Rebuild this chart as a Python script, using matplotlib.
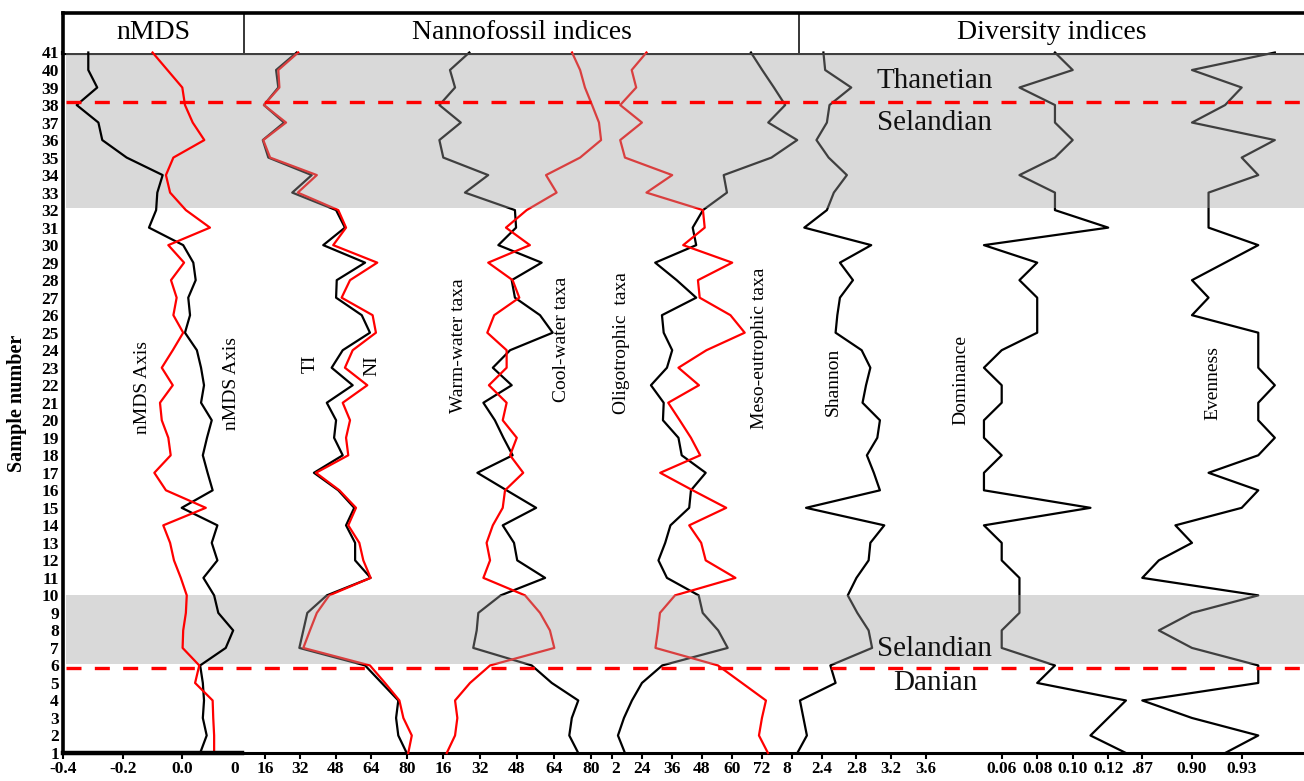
import numpy as np
import matplotlib.pyplot as plt
from matplotlib.transforms import ScaledTranslation

plt.rcParams['font.family'] = ['Liberation Serif', 'DejaVu Serif']

# sample numbers, bottom (1) to top (41)
samples = np.arange(1, 42)

nmds_axis1 = [0.060, 0.082, 0.069, 0.073, 0.069, 0.060, 0.146, 0.171, 0.121, 0.107,
              0.071, 0.118, 0.099, 0.118, -0.002, 0.102, 0.085, 0.069, 0.083, 0.099,
              0.063, 0.073, 0.063, 0.049, 0.009, 0.026, 0.020, 0.045, 0.037, 0.003,
              -0.112, -0.088, -0.084, -0.066, -0.187, -0.269, -0.282, -0.355, -0.286, -0.316,
              -0.316]
nmds_axis2 = [0.107, 0.107, 0.104, 0.102, 0.043, 0.057, 0.001, 0.003, 0.012, 0.015,
              -0.005, -0.028, -0.041, -0.064, 0.079, -0.055, -0.094, -0.039, -0.047, -0.069,
              -0.075, -0.032, -0.069, -0.032, 0.003, -0.030, -0.019, -0.038, 0.006, -0.047,
              0.093, 0.012, -0.041, -0.055, -0.030, 0.074, 0.035, 0.009, 0.000, -0.050,
              -0.100]

ti = [80.0, 76.2, 75.2, 76.2, 68.7, 61.2, 31.5, 33.3, 35.1, 43.9,
      63.7, 56.7, 56.7, 52.6, 56.3, 49.1, 38.1, 51.1, 47.2, 48.1,
      43.9, 55.6, 46.1, 51.1, 63.4, 59.7, 48.1, 48.4, 61.2, 42.3,
      52.1, 48.1, 28.3, 37.1, 17.5, 15.0, 24.6, 15.5, 22.0, 21.0,
      30.3]
ni = [80.7, 82.3, 78.5, 76.7, 70.2, 63.4, 33.3, 36.3, 39.4, 45.0,
      63.7, 60.4, 58.6, 53.6, 57.1, 49.6, 39.0, 53.6, 52.6, 54.4,
      51.1, 62.2, 52.1, 55.6, 66.1, 64.6, 50.6, 54.4, 66.7, 46.8,
      52.6, 49.1, 30.8, 39.4, 18.3, 15.2, 25.5, 15.5, 22.5, 22.0,
      31.0]

warm_water = [74.6, 70.7, 71.8, 74.6, 63.1, 54.4, 29.0, 30.5, 31.2, 40.9,
              60.2, 48.1, 46.7, 41.8, 56.3, 43.5, 30.8, 46.1, 42.1, 38.4,
              33.4, 45.7, 37.5, 45.0, 63.5, 58.0, 47.1, 45.7, 58.7, 39.9,
              47.6, 47.1, 25.4, 35.5, 16.0, 14.3, 23.6, 14.3, 21.1, 18.9,
              27.3]
cool_water = [17.5, 21.1, 22.1, 21.1, 27.6, 36.3, 64.2, 62.3, 58.0, 51.5,
              33.4, 36.3, 34.8, 37.5, 41.8, 42.8, 50.7, 45.0, 47.9, 41.8,
              43.5, 35.8, 43.5, 43.5, 35.1, 38.1, 49.0, 46.1, 35.5, 53.6,
              43.2, 52.2, 65.2, 60.6, 75.4, 84.5, 83.6, 80.6, 77.5, 75.4,
              71.9]

oligotrophic = [74.5, 70.9, 72.1, 73.7, 64.1, 54.5, 29.5, 30.5, 31.3, 37.3,
                61.5, 49.6, 47.8, 43.0, 57.8, 44.4, 31.4, 47.4, 43.7, 39.2,
                34.6, 46.9, 38.7, 49.9, 65.2, 59.5, 47.2, 46.5, 60.2, 40.6,
                49.2, 48.5, 25.9, 36.2, 17.3, 15.4, 24.1, 15.4, 21.8, 20.0,
                25.9]
meso_eutrophic = [17.3, 14.5, 16.9, 20.1, 24.1, 32.2, 58.4, 54.6, 48.4, 46.8,
                  34.1, 30.7, 33.4, 35.5, 43.0, 43.7, 49.6, 40.0, 38.7, 32.5,
                  32.8, 27.7, 34.1, 36.2, 32.8, 32.1, 45.8, 38.0, 29.4, 45.8,
                  44.4, 48.5, 58.1, 56.8, 75.9, 86.2, 74.6, 81.4, 76.9, 72.2,
                  67.7]

shannon = [2.12, 2.23, 2.19, 2.15, 2.56, 2.50, 2.98, 2.94, 2.81, 2.70,
           2.80, 2.94, 2.96, 3.12, 2.22, 3.07, 3.00, 2.92, 3.04, 3.07,
           2.87, 2.91, 2.96, 2.86, 2.56, 2.58, 2.61, 2.76, 2.61, 2.97,
           2.20, 2.46, 2.54, 2.69, 2.48, 2.34, 2.46, 2.49, 2.74, 2.44,
           2.42]
dominance = [0.13, 0.11, 0.12, 0.13, 0.08, 0.09, 0.06, 0.06, 0.07, 0.07,
             0.07, 0.06, 0.06, 0.05, 0.11, 0.05, 0.05, 0.06, 0.05, 0.05,
             0.06, 0.06, 0.05, 0.06, 0.08, 0.08, 0.08, 0.07, 0.08, 0.05,
             0.12, 0.09, 0.09, 0.07, 0.09, 0.10, 0.09, 0.09, 0.07, 0.10,
             0.09]
evenness = [0.92, 0.94, 0.90, 0.87, 0.94, 0.94, 0.90, 0.88, 0.90, 0.94,
            0.87, 0.88, 0.90, 0.89, 0.93, 0.94, 0.91, 0.94, 0.95, 0.94,
            0.94, 0.95, 0.94, 0.94, 0.94, 0.90, 0.91, 0.90, 0.92, 0.94,
            0.91, 0.91, 0.91, 0.94, 0.93, 0.95, 0.90, 0.92, 0.93, 0.90,
            0.95]

# stage boundaries and shaded intervals (sample units)
boundaries = [38.2, 5.87]
shaded = [(32.1, 41.0), (6.1, 10.0)]
stages = [('Thanetian', 39.4), ('Selandian', 37.0), ('Selandian', 6.95), ('Danian', 4.97)]

W, H = 1304, 781
TOP, BOTTOM = 52.5, 753.0
fig = plt.figure(figsize=(W / 100, H / 100), dpi=100)


def box(x0, x1, y0=TOP, y1=BOTTOM):
    return [x0 / W, 1 - y1 / H, (x1 - x0) / W, (y1 - y0) / H]


# frame with sample-number axis
base = fig.add_axes(box(63, 1304))
base.set_xlim(0, 1)
base.set_ylim(1, 41)
base.set_xticks([])
base.set_yticks(samples)
base.set_yticklabels([str(s) for s in samples], fontweight='bold', fontsize=12.5)
base.tick_params(axis='y', length=0, pad=3)
base.spines['right'].set_visible(False)
base.spines['top'].set_linewidth(3.0)
base.spines['left'].set_linewidth(2.6)
base.spines['bottom'].set_linewidth(2.2)
fig.text(17 / W, 1 - 403 / H, 'Sample number', rotation=90, ha='center', va='center',
         fontweight='bold', fontsize=14.5)

# header row
hdr = fig.add_axes(box(63, 1304, 12.5, 52.5))
hdr.set_xlim(63, 1304)
hdr.set_ylim(0, 1)
hdr.set_xticks([])
hdr.set_yticks([])
hdr.spines['right'].set_visible(False)
hdr.spines['bottom'].set_visible(False)
hdr.spines['top'].set_linewidth(2.6)
hdr.spines['left'].set_linewidth(2.6)
for xd in (244, 799):
    hdr.axvline(xd, color='black', lw=1.1)
for label, xc in (('nMDS', 153.5), ('Nannofossil indices', 521.5), ('Diversity indices', 1051.5)):
    hdr.text(xc, 0.5, label, ha='center', va='center', fontsize=20)


def track(x0, x1, lo, hi, ticks, labels, size=12.5):
    ax = fig.add_axes(box(x0, x1))
    ax.set_xlim(lo, hi)
    ax.set_ylim(1, 41)
    ax.patch.set_visible(False)
    for sp in ax.spines.values():
        sp.set_visible(False)
    ax.set_yticks([])
    ax.set_xticks(ticks)
    ax.set_xticklabels(labels, fontweight='bold', fontsize=size)
    ax.tick_params(axis='x', direction='out', length=4, width=1.5, pad=2)
    return ax


def clipped_label(ax, value, text, dx, size=12.5):
    # tick label partly hidden by the neighbouring panel
    off = ScaledTranslation(dx / 100, -6 / 72, fig.dpi_scale_trans)
    ax.text(value, 0, text, transform=ax.get_xaxis_transform() + off,
            ha='center', va='top', fontweight='bold', fontsize=size)


def series(ax, values, color, lw=1.6):
    ax.plot(values, samples, color=color, lw=lw, clip_on=False)


def tag(ax, x, y, text):
    ax.text(x, y, text, rotation=90, ha='center', va='center', fontsize=14)


# nannofossil indices
ax_ti = track(229.6, 406.7, 0, 80, [16, 32, 48, 64, 80], ['16', '32', '48', '64', '80'])
series(ax_ti, ti, 'black')
series(ax_ti, ni, 'red')
tag(ax_ti, 36.3, 23.2, 'TI')
tag(ax_ti, 64.3, 23.1, 'NI')

ax_wc = track(406.45, 590.7, 0, 80, [16, 32, 48, 64, 80], ['16', '32', '48', '64', '80'])
series(ax_wc, warm_water, 'black')
series(ax_wc, cool_water, 'red')
tag(ax_wc, 22.8, 24.26, 'Warm-water taxa')
tag(ax_wc, 67.5, 24.6, 'Cool-water taxa')

ax_tr = track(581.7, 791.7, 0, 84, [12, 24, 36, 48, 60, 72, 84],
              ['', '24', '36', '48', '60', '72', ''])
clipped_label(ax_tr, 12, '2', 4.3)
clipped_label(ax_tr, 84, '8', -4.5)
series(ax_tr, meso_eutrophic, 'black')
series(ax_tr, oligotrophic, 'red')
tag(ax_tr, 15.9, 24.43, 'Oligotrophic  taxa')
tag(ax_tr, 71.3, 24.09, 'Meso-eutrophic taxa')

# diversity indices
ax_sh = track(786.9, 926.0, 2.0, 3.6, [2.4, 2.8, 3.2, 3.6], ['2.4', '2.8', '3.2', '3.6'], size=12)
series(ax_sh, shannon, 'black')
tag(ax_sh, 2.536, 22.2, 'Shannon')

ax_do = track(966.2, 1125.95, 0.04, 0.13, [0.06, 0.08, 0.10, 0.12],
              ['0.06', '0.08', '0.10', '0.12'], size=12.5)
series(ax_do, dominance, 'black')
tag(ax_do, 0.0371, 22.3, 'Dominance')

ax_ev = track(1125.7, 1291.4, 0.86, 0.96, [0.87, 0.90, 0.93], ['.87', '0.90', '0.93'], size=12.5)
series(ax_ev, evenness, 'black')
tag(ax_ev, 0.9127, 22.14, 'Evenness')

# translucent stage shading over the index panels
shade = fig.add_axes(box(65.5, 1304))
shade.set_xlim(0, 1)
shade.set_ylim(1, 41)
shade.axis('off')
for lo, hi in shaded:
    shade.axhspan(lo, hi, color=(0.627, 0.627, 0.627), alpha=0.4, lw=0)

# nMDS panel sits above the shading
ax_nm = track(63.3, 241.8, -0.4, 0.2, [-0.4, -0.2, 0.0], ['-0.4', '-0.2', '0.0'])
ax_nm.spines['bottom'].set_visible(True)
ax_nm.spines['bottom'].set_linewidth(3.2)
clipped_label(ax_nm, 0.2, '0', -7.5)
series(ax_nm, nmds_axis1, 'black')
series(ax_nm, nmds_axis2, 'red')
tag(ax_nm, -0.134, 21.86, 'nMDS Axis')
tag(ax_nm, 0.165, 22.09, 'nMDS Axis')

# stage boundaries and names
top = fig.add_axes(box(65.5, 1304))
top.set_xlim(0, 1)
top.set_ylim(1, 41)
top.axis('off')
for b in boundaries:
    top.axhline(b, color='red', lw=2.4, ls=(0, (4.5, 4)))
for name, y in stages:
    top.text(0.702, y, name, ha='center', va='center', fontsize=21, color='#111111')

fig.savefig('out.png', dpi=100)
